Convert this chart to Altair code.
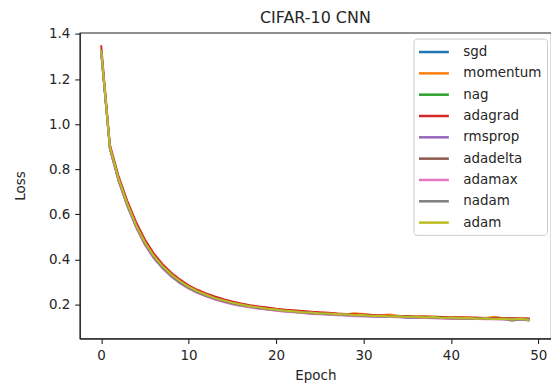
import altair as alt
import pandas as pd

epochs = list(range(50))

optimizers = ["sgd", "momentum", "nag", "adagrad", "rmsprop",
              "adadelta", "adamax", "nadam", "adam"]
colors = ["#1f77b4", "#ff7f0e", "#2ca02c", "#d62728", "#9467bd",
          "#8c564b", "#e377c2", "#7f7f7f", "#bcbd22"]

sgd = [1.32, 0.895, 0.752, 0.640, 0.548, 0.471, 0.411, 0.366, 0.329, 0.300,
       0.275, 0.256, 0.240, 0.226, 0.215, 0.205, 0.198, 0.190, 0.185, 0.180,
       0.175, 0.172, 0.168, 0.165, 0.162, 0.160, 0.158, 0.156, 0.154, 0.152,
       0.150, 0.149, 0.148, 0.147, 0.146, 0.140, 0.141, 0.143, 0.142, 0.140,
       0.139, 0.139, 0.138, 0.138, 0.137, 0.137, 0.136, 0.135, 0.135, 0.133]
momentum = [1.33, 0.90, 0.758, 0.647, 0.553, 0.477, 0.417, 0.372, 0.335, 0.305,
            0.281, 0.261, 0.245, 0.232, 0.220, 0.210, 0.202, 0.195, 0.189, 0.184,
            0.180, 0.176, 0.172, 0.169, 0.166, 0.164, 0.161, 0.159, 0.157, 0.161,
            0.158, 0.153, 0.152, 0.155, 0.150, 0.148, 0.147, 0.146, 0.145, 0.144,
            0.143, 0.143, 0.142, 0.141, 0.140, 0.145, 0.139, 0.139, 0.138, 0.138]
nag = [1.325, 0.898, 0.755, 0.643, 0.550, 0.473, 0.413, 0.368, 0.331, 0.301,
       0.276, 0.257, 0.241, 0.228, 0.216, 0.206, 0.198, 0.191, 0.185, 0.180,
       0.176, 0.172, 0.168, 0.165, 0.162, 0.160, 0.158, 0.156, 0.154, 0.152,
       0.151, 0.149, 0.148, 0.147, 0.146, 0.145, 0.144, 0.143, 0.142, 0.141,
       0.140, 0.139, 0.139, 0.138, 0.137, 0.137, 0.136, 0.136, 0.135, 0.134]
adagrad = [1.35, 0.91, 0.768, 0.658, 0.565, 0.488, 0.427, 0.380, 0.342, 0.311,
           0.285, 0.265, 0.249, 0.235, 0.223, 0.213, 0.204, 0.197, 0.191, 0.186,
           0.181, 0.177, 0.174, 0.171, 0.168, 0.165, 0.163, 0.160, 0.158, 0.156,
           0.155, 0.153, 0.152, 0.150, 0.149, 0.148, 0.147, 0.146, 0.145, 0.144,
           0.143, 0.142, 0.142, 0.141, 0.140, 0.139, 0.139, 0.138, 0.138, 0.137]
rmsprop = [1.32, 0.89, 0.748, 0.636, 0.543, 0.466, 0.407, 0.362, 0.325, 0.296,
           0.272, 0.253, 0.237, 0.224, 0.213, 0.203, 0.195, 0.189, 0.183, 0.178,
           0.174, 0.170, 0.166, 0.163, 0.160, 0.158, 0.156, 0.154, 0.152, 0.150,
           0.149, 0.147, 0.146, 0.145, 0.144, 0.143, 0.142, 0.141, 0.140, 0.139,
           0.138, 0.137, 0.137, 0.136, 0.135, 0.135, 0.134, 0.134, 0.133, 0.133]
adadelta = [1.33, 0.90, 0.756, 0.645, 0.551, 0.474, 0.414, 0.369, 0.332, 0.302,
            0.277, 0.258, 0.242, 0.229, 0.217, 0.207, 0.199, 0.192, 0.186, 0.181,
            0.177, 0.173, 0.170, 0.166, 0.163, 0.161, 0.159, 0.157, 0.155, 0.153,
            0.152, 0.150, 0.149, 0.148, 0.147, 0.146, 0.145, 0.144, 0.143, 0.142,
            0.141, 0.141, 0.140, 0.139, 0.138, 0.138, 0.137, 0.137, 0.136, 0.136]
adamax = [1.32, 0.89, 0.747, 0.635, 0.542, 0.465, 0.406, 0.361, 0.324, 0.294,
          0.270, 0.251, 0.236, 0.222, 0.211, 0.201, 0.193, 0.187, 0.181, 0.177,
          0.172, 0.168, 0.165, 0.162, 0.158, 0.156, 0.154, 0.152, 0.151, 0.148,
          0.147, 0.146, 0.145, 0.144, 0.143, 0.142, 0.141, 0.140, 0.139, 0.138,
          0.137, 0.136, 0.136, 0.135, 0.134, 0.134, 0.133, 0.133, 0.132, 0.132]
nadam = [1.325, 0.893, 0.750, 0.638, 0.545, 0.468, 0.409, 0.364, 0.327, 0.297,
         0.273, 0.254, 0.238, 0.225, 0.214, 0.204, 0.196, 0.190, 0.184, 0.179,
         0.175, 0.171, 0.167, 0.164, 0.161, 0.159, 0.157, 0.155, 0.153, 0.151,
         0.150, 0.148, 0.147, 0.146, 0.145, 0.144, 0.143, 0.142, 0.141, 0.140,
         0.139, 0.138, 0.138, 0.137, 0.136, 0.136, 0.135, 0.128, 0.134, 0.128]
adam = [1.33, 0.90, 0.757, 0.646, 0.552, 0.476, 0.416, 0.371, 0.334, 0.304,
        0.279, 0.259, 0.243, 0.228, 0.218, 0.208, 0.200, 0.192, 0.187, 0.181,
        0.178, 0.172, 0.170, 0.165, 0.164, 0.160, 0.160, 0.156, 0.156, 0.152,
        0.153, 0.149, 0.150, 0.146, 0.148, 0.144, 0.146, 0.142, 0.144, 0.140,
        0.142, 0.139, 0.140, 0.137, 0.139, 0.134, 0.136, 0.133, 0.136, 0.131]

series = [sgd, momentum, nag, adagrad, rmsprop, adadelta, adamax, nadam, adam]

rows = []
for order, (name, vals) in enumerate(zip(optimizers, series)):
    for e, v in zip(epochs, vals):
        rows.append({"optimizer": name, "order": order, "epoch": e, "loss": v})
df = pd.DataFrame(rows)

FONT = "DejaVu Sans"
TXT = "#262626"

chart = alt.Chart(df).mark_line(strokeWidth=2, clip=True).encode(
    x=alt.X("epoch:Q",
            scale=alt.Scale(domain=[-2.45, 51.45], nice=False, zero=False),
            axis=alt.Axis(title="Epoch", values=[0, 10, 20, 30, 40, 50],
                          format="d", titlePadding=7)),
    y=alt.Y("loss:Q",
            scale=alt.Scale(domain=[0.049, 1.406], nice=False, zero=False),
            axis=alt.Axis(title="Loss", values=[0.2, 0.4, 0.6, 0.8, 1.0, 1.2, 1.4],
                          format=".1f", titlePadding=21)),
    color=alt.Color("optimizer:N",
                    scale=alt.Scale(domain=optimizers, range=colors),
                    sort=optimizers,
                    legend=alt.Legend(title=None, orient="none",
                                      legendX=335, legendY=6,
                                      symbolType="M-1.143,0H3.143", symbolSize=196,
                                      symbolStrokeWidth=2.5,
                                      symbolFillColor="transparent",
                                      labelFontSize=13.5, labelFont=FONT,
                                      labelColor=TXT, labelOffset=28,
                                      rowPadding=6.4, padding=5,
                                      strokeColor="#cccccc", fillColor="white",
                                      cornerRadius=3)),
    detail="order:O",
).properties(
    width=473, height=307,
    title=alt.TitleParams("CIFAR-10 CNN", font=FONT, fontSize=16,
                          fontWeight="normal", color=TXT, offset=8, dy=7,
                          frame="group", anchor="middle"),
    autosize=alt.AutoSizeParams(type="none"),
    padding={"left": 72, "top": 24, "right": 0, "bottom": 46},
).configure_view(
    stroke="#222222", strokeWidth=1.1
).configure_axis(
    grid=False, domainColor="#222222", domainWidth=1.1,
    tickColor="#222222", tickSize=5, tickWidth=1.1,
    labelFont=FONT, labelFontSize=13.5, labelColor=TXT, labelPadding=5,
    titleFont=FONT, titleFontSize=13.5, titleColor=TXT, titleFontWeight="normal",
)

chart.save("out.html", embed_options={"renderer": "svg", "actions": False})
